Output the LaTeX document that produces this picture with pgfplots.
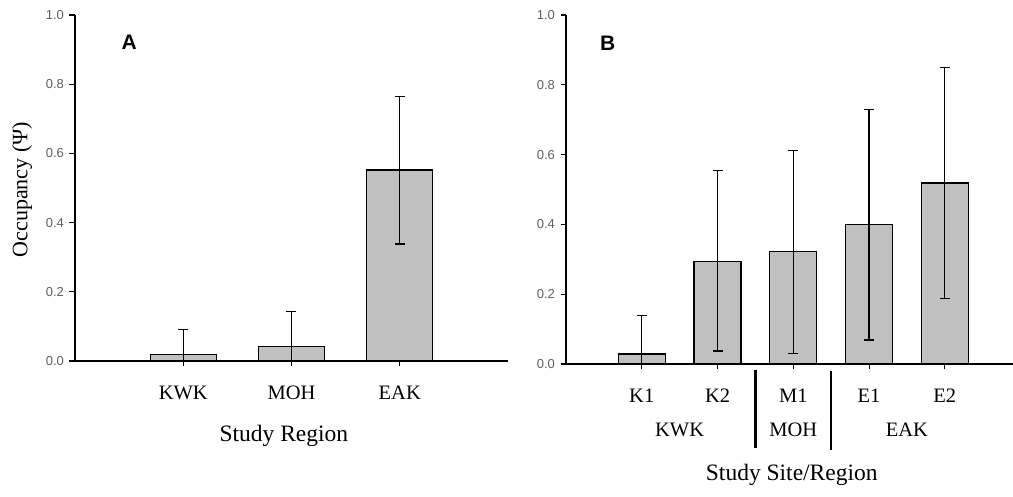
\documentclass[border=0pt]{standalone}
\usepackage{pgfplots}
\pgfplotsset{compat=1.18}
\usepackage{pgfplotstable}
\usepackage{fontspec}
\setmainfont{Liberation Serif}
\setsansfont{Liberation Sans}
\definecolor{barfill}{RGB}{192,192,192}
\definecolor{tickgray}{RGB}{95,95,95}

\pgfplotstableread{
x y yp ym
0 0.018 0.074 0.018
1 0.042 0.102 0.042
2 0.552 0.212 0.214
}\dataA

\pgfplotstableread{
x y yp ym
0 0.029 0.109 0.029
1 0.294 0.261 0.257
2 0.322 0.289 0.293
3 0.400 0.330 0.331
4 0.519 0.330 0.331
}\dataB

\pgfplotsset{
  occ/.style={
    scale only axis,
    anchor=south west,
    ymin=0, ymax=1,
    axis lines*=left,
    axis line style={line width=1.3pt},
    ytick={0,0.2,0.4,0.6,0.8,1.0},
    /pgf/number format/fixed,
    /pgf/number format/fixed zerofill,
    /pgf/number format/precision=1,
    /pgf/number format/assume math mode=true,
    yticklabel style={font=\sffamily\fontsize{13}{13}\selectfont, text=tickgray, xshift=-2pt},
    tick align=outside,
    major tick length=5.5pt,
    tick style={line width=1.1pt, black},
    xtick=data,
    xticklabel style={font=\fontsize{20.5}{20.5}\selectfont, yshift=-16pt},
    clip=false,
  },
  occbar/.style={
    ybar, bar shift=0pt,
    fill=barfill, draw=black, line width=1.3pt,
    error bars/.cd, y dir=both, y explicit,
    error mark=-,
    error bar style={line width=1.2pt, black},
    error mark options={line width=1.2pt, black, mark size=5pt, rotate=90},
    /pgfplots/.cd,
  },
}

\begin{document}
\begin{tikzpicture}
\useasboundingbox (0,0) rectangle (1013pt,497pt);

\begin{axis}[occ,
  at={(75pt,136pt)},
  width=433pt, height=346pt,
  xmin=-1, xmax=3,
  xticklabels={KWK,MOH,EAK},
  ylabel={Occupancy (Ψ)},
  xlabel={Study Region},
  every axis y label/.style={at={(axis description cs:-0.1224,0.495)}, anchor=center, rotate=90, font=\fontsize{22}{22}\selectfont},
  every axis x label/.style={at={(axis cs:0.93,0)}, anchor=center, yshift=-75pt, font=\fontsize{23.5}{23.5}\selectfont},
]
\addplot[bar width=66pt, occbar] table[x=x, y=y, y error plus=yp, y error minus=ym] {\dataA};
\node[font=\sffamily\bfseries\fontsize{21}{21}\selectfont] at (axis cs:-0.5,0.922) {A};
\end{axis}

\begin{axis}[occ,
  at={(566pt,133pt)},
  width=447pt, height=349pt,
  xmin=-1, xmax=4.9,
  xticklabels={K1,K2,M1,E1,E2},
  xlabel={Study Site/Region},
  every axis x label/.style={at={(axis cs:1.98,0)}, anchor=center, yshift=-111pt, font=\fontsize{23.5}{23.5}\selectfont},
]
\addplot[bar width=47pt, occbar] table[x=x, y=y, y error plus=yp, y error minus=ym] {\dataB};
\node[font=\sffamily\bfseries\fontsize{21}{21}\selectfont] at (axis cs:-0.45,0.92) {B};
\node[font=\fontsize{20.5}{20.5}\selectfont] at ([yshift=-66pt]axis cs:0.5,0) {KWK};
\node[font=\fontsize{20.5}{20.5}\selectfont] at ([yshift=-66pt]axis cs:2,0) {MOH};
\node[font=\fontsize{20.5}{20.5}\selectfont] at ([yshift=-66pt]axis cs:3.5,0) {EAK};
\draw[line width=2.6pt] ([yshift=-6pt]axis cs:1.5,0) -- ([yshift=-84pt]axis cs:1.5,0);
\draw[line width=2.6pt] ([yshift=-7pt]axis cs:2.5,0) -- ([yshift=-86pt]axis cs:2.5,0);
\end{axis}
\end{tikzpicture}
\end{document}
